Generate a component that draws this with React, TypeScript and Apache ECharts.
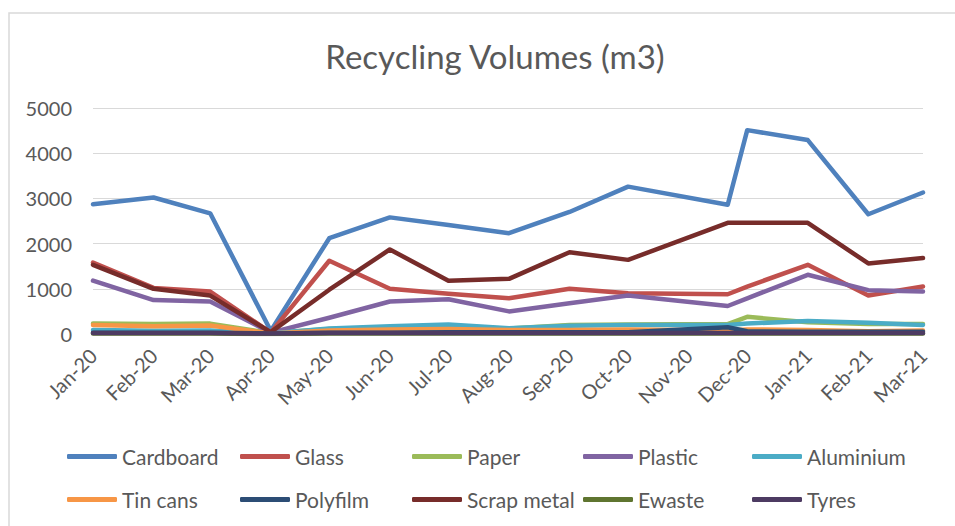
import React, { useEffect, useRef } from "react";
import * as echarts from "echarts";

const dates = [
  "2020-01-01", "2020-02-01", "2020-03-01", "2020-04-01", "2020-05-01",
  "2020-06-01", "2020-07-01", "2020-08-01", "2020-09-01", "2020-10-01",
  "2020-11-21", "2020-12-01", "2021-01-01", "2021-02-01", "2021-03-01",
];
const axisMin = "2020-01-01";
const axisMax = "2021-03-01";
const monthNames = ["Jan", "Feb", "Mar", "Apr", "May", "Jun", "Jul", "Aug", "Sep", "Oct", "Nov", "Dec"];

const cardboard = [2870, 3020, 2670, 70, 2120, 2580, 2410, 2230, 2700, 3260, 2860, 4510, 4290, 2650, 3130];
const glass = [1580, 1020, 940, 30, 1620, 1000, 890, 790, 1000, 900, 880, 1050, 1530, 850, 1050];
const paper = [230, 220, 230, 20, 110, 140, 160, 120, 200, 210, 220, 380, 260, 220, 220];
const plastic = [1180, 750, 720, 30, 360, 720, 770, 500, 680, 850, 620, 790, 1310, 970, 940];
const aluminium = [90, 70, 80, 10, 120, 170, 210, 130, 180, 200, 200, 230, 290, 250, 200];
const tinCans = [200, 170, 190, 10, 80, 100, 110, 90, 90, 100, 80, 100, 90, 60, 80];
const polyfilm = [30, 30, 30, 10, 30, 30, 40, 40, 40, 40, 150, 60, 50, 50, 50];
const scrapMetal = [1530, 1000, 850, 40, 980, 1870, 1180, 1220, 1810, 1640, 2460, 2460, 2460, 1560, 1680];
const ewaste = [10, 10, 10, 0, 10, 10, 10, 10, 10, 10, 10, 10, 10, 10, 10];
const tyres = [20, 20, 20, 10, 20, 20, 20, 20, 20, 20, 20, 20, 20, 20, 20];

const seriesNames = ["Cardboard", "Glass", "Paper", "Plastic", "Aluminium", "Tin cans", "Polyfilm", "Scrap metal", "Ewaste", "Tyres"];
const seriesValues = [cardboard, glass, paper, plastic, aluminium, tinCans, polyfilm, scrapMetal, ewaste, tyres];
const colors = ["#4F81BD", "#C0504D", "#9BBB59", "#8064A2", "#4BACC6", "#F79646", "#2C4D75", "#772C2A", "#5F7530", "#4D3B62"];

const FONT = "Lato";
const TEXT = "#595959";

export default function App() {
  const ref = useRef<HTMLDivElement>(null);
  useEffect(() => {
    if (!ref.current) return;
    const chart = echarts.init(ref.current, undefined, { renderer: "svg" });
    const colLeft = [67, 240, 412, 583, 752];
    const rowTop = [446, 489];
    const legends = seriesNames.map((name, i) => ({
      data: [name],
      left: colLeft[i % 5],
      top: rowTop[Math.floor(i / 5)],
      padding: 0,
      icon: "roundRect",
      itemWidth: 50,
      itemHeight: 5,
      textStyle: { fontFamily: FONT, fontSize: 21, color: TEXT },
      selectedMode: false,
    }));
    chart.setOption({
      animation: false,
      color: colors,
      title: {
        text: "Recycling Volumes (m3)",
        left: 490,
        textAlign: "center",
        top: 34,
        textStyle: { fontFamily: FONT, fontSize: 33, fontWeight: "normal", color: TEXT },
      },
      graphic: [
        {
          type: "rect",
          shape: { x: 9, y: 13, width: 1000, height: 600 },
          style: { fill: "none", stroke: "#d9d9d9", lineWidth: 1.5 },
          silent: true,
        },
      ],
      legend: legends,
      grid: { left: 93, right: 32, top: 108, bottom: 192, containLabel: false },
      xAxis: {
        type: "time",
        min: axisMin,
        max: axisMax,
        minInterval: 28 * 86400000,
        maxInterval: 31 * 86400000,
        axisLine: { lineStyle: { color: "#d9d9d9", width: 1 } },
        axisTick: { show: false },
        splitLine: { show: false },
        axisLabel: {
          rotate: 45,
          margin: 18,
          fontFamily: FONT,
          fontSize: 20,
          color: TEXT,
          showMinLabel: true,
          showMaxLabel: true,
          formatter: (v: number) => {
            const d = new Date(v);
            return monthNames[d.getMonth()] + "-" + String(d.getFullYear()).slice(2);
          },
        },
      },
      yAxis: {
        type: "value",
        min: 0,
        max: 5000,
        interval: 1000,
        axisLine: { show: false },
        axisTick: { show: false },
        splitLine: { lineStyle: { color: "#d9d9d9", width: 1 } },
        axisLabel: {
          fontFamily: FONT,
          fontSize: 20,
          color: TEXT,
          margin: 21,
          formatter: (v: number) => String(v),
        },
      },
      series: seriesNames.map((name, i) => ({
        name,
        type: "line",
        data: dates.map((d, j) => [d, seriesValues[i][j]]),
        symbol: "none",
        lineStyle: { width: 4.5, cap: "round", join: "round", color: colors[i] },
        itemStyle: { color: colors[i] },
      })),
    });
    return () => chart.dispose();
  }, []);
  return (
    <div
      ref={ref}
      style={{ position: "fixed", left: 0, top: 0, width: 955, height: 526, background: "#fff" }}
    />
  );
}
